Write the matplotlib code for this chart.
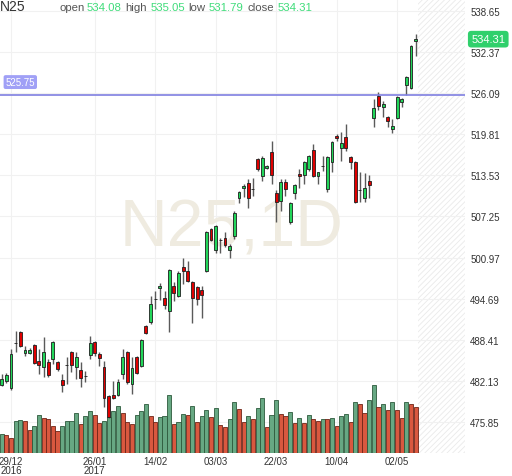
import numpy as np
import matplotlib
matplotlib.use("Agg")
import matplotlib.pyplot as plt

plt.rcParams['font.family'] = ['Liberation Sans', 'DejaVu Sans']
plt.rcParams['hatch.linewidth'] = 0.6

# daily OHLC (oldest first)
opens = [481.54, 482.15, 481.08, 487.90, 489.62, 486.42, 486.42, 487.64, 485.20, 484.28,
         485.05, 485.50, 485.05, 482.30, 484.55, 486.57, 484.28, 483.82, 482.90, 486.11,
         488.10, 486.27, 484.28, 479.86, 480.01, 480.01, 483.21, 486.57, 481.69, 485.81,
         484.44, 490.53, 491.15, 494.60, 496.34, 494.81, 492.83, 496.64, 495.12, 499.55,
         498.94, 497.25, 496.49, 496.03, 498.94, 505.35, 502.16, 503.60, 503.97, 502.16,
         504.28, 510.07, 511.60, 512.36, 511.40, 516.02, 513.43, 514.65, 517.09, 510.84,
         509.61, 512.51, 506.41, 510.84, 513.74, 513.58, 514.50, 517.40, 513.43, 514.90,
         511.45, 515.57, 519.53, 517.70, 519.38, 516.33, 515.57, 511.30, 510.07, 512.67,
         522.28, 525.64, 523.96, 522.43, 520.60, 522.28, 524.72, 527.32, 526.86, 534.08]
highs = [483.21, 483.37, 487.03, 489.78, 489.78, 487.49, 487.18, 487.79, 487.03, 488.86,
         485.50, 488.25, 485.20, 483.21, 485.81, 486.72, 486.57, 485.05, 483.67, 489.01,
         488.25, 486.57, 485.20, 480.01, 482.15, 482.45, 487.03, 486.72, 485.81, 485.96,
         488.56, 490.69, 495.12, 495.88, 497.10, 495.88, 499.24, 497.25, 498.94, 500.92,
         500.46, 497.41, 496.64, 496.64, 505.05, 505.50, 505.90, 503.97, 504.89, 503.06,
         508.09, 511.14, 512.21, 512.97, 513.12, 516.18, 516.48, 515.10, 518.77, 511.29,
         512.97, 512.97, 509.46, 512.21, 514.50, 515.72, 516.63, 518.31, 514.10, 516.48,
         516.48, 518.77, 519.84, 520.14, 521.37, 516.48, 515.72, 514.04, 513.89, 513.58,
         525.18, 526.25, 524.88, 522.59, 522.13, 525.64, 525.33, 528.69, 533.42, 535.05]
lows = [481.38, 481.84, 480.77, 486.57, 487.34, 485.96, 486.27, 484.74, 483.21, 482.76,
        482.76, 484.74, 483.67, 480.47, 481.69, 483.52, 482.45, 481.23, 482.00, 485.50,
        485.96, 484.44, 478.18, 476.50, 479.40, 479.86, 482.45, 481.69, 480.16, 483.21,
        484.28, 489.32, 490.84, 493.13, 494.51, 493.13, 489.62, 494.35, 494.97, 496.95,
        497.25, 490.99, 493.74, 491.75, 498.79, 503.52, 501.70, 501.70, 502.60, 500.92,
        503.82, 509.31, 510.23, 508.55, 510.38, 514.19, 512.67, 514.50, 512.21, 506.41,
        508.09, 510.38, 506.10, 509.92, 511.60, 512.21, 514.19, 513.28, 512.21, 514.19,
        510.99, 514.04, 518.77, 515.72, 517.24, 514.50, 509.31, 509.46, 509.46, 510.07,
        520.91, 523.50, 522.43, 520.91, 519.99, 522.13, 523.96, 525.79, 526.71, 531.79]
closes = [482.45, 483.06, 486.27, 488.00, 487.49, 486.88, 486.88, 484.89, 484.59, 486.57,
          483.06, 488.10, 483.98, 481.54, 484.65, 484.59, 485.81, 482.60, 482.95, 487.95,
          486.42, 485.66, 479.55, 476.65, 479.55, 482.00, 485.81, 482.00, 484.13, 483.37,
          488.40, 489.47, 493.90, 494.70, 496.64, 493.74, 499.09, 495.58, 498.63, 498.94,
          497.41, 494.81, 494.66, 495.27, 504.89, 503.67, 505.81, 503.70, 502.90, 502.77,
          507.79, 510.99, 511.90, 510.07, 511.50, 514.50, 516.18, 514.96, 513.58, 509.46,
          512.51, 511.45, 509.31, 512.06, 513.43, 515.57, 516.48, 513.43, 514.04, 515.00,
          516.33, 518.62, 519.23, 518.47, 517.70, 515.57, 509.46, 511.35, 511.60, 512.06,
          523.81, 524.11, 524.42, 521.82, 521.06, 525.49, 525.18, 528.54, 533.27, 534.31]
volumes = [190, 180, 147, 323, 333, 323, 230, 273, 383, 350,
           340, 273, 223, 273, 323, 325, 397, 290, 367, 417,
           383, 300, 323, 357, 423, 473, 397, 307, 290, 383,
           417, 490, 373, 313, 357, 367, 583, 290, 313, 390,
           380, 473, 307, 373, 433, 357, 447, 280, 263, 340,
           507, 440, 313, 373, 340, 447, 550, 257, 383, 533,
           390, 373, 407, 300, 350, 300, 383, 340, 317, 340,
           338, 350, 267, 373, 390, 307, 507, 490, 400, 533,
           683, 457, 490, 433, 507, 433, 350, 507, 490, 457]

date_pos = [2, 20, 33, 46, 59, 72, 85]
date_labels = ['29/12\n2016', '26/01\n2017', '14/02', '03/03', '22/03', '10/04', '02/05']
price_ticks = [475.85, 482.13, 488.41, 494.69, 500.97, 507.25, 513.53,
               519.81, 526.09, 532.37, 538.65]
level = 525.75
last = dict(open=534.08, high=535.05, low=531.79, close=534.31)

o = np.array(opens)
h = np.array(highs)
l = np.array(lows)
c = np.array(closes)
v = np.array(volumes)
x = np.arange(len(o))

fig = plt.figure(figsize=(5.12, 4.77), dpi=100)
rect = [0, 23 / 477, 465 / 512, 454 / 477]
axg = fig.add_axes(rect)
axv = fig.add_axes(rect, sharex=axg)
ax = fig.add_axes(rect, sharex=axg, sharey=axg)

axg.set_xlim(-0.37, 99.6)
axg.set_ylim(471.16, 540.44)
for s in axg.spines.values():
    s.set_visible(False)
axg.set_xticks(date_pos, date_labels)
axg.yaxis.tick_right()
axg.set_yticks(price_ticks, [f"{t:.2f}" for t in price_ticks])
axg.tick_params(axis='both', length=0, labelsize=7, colors='#333333')
axg.tick_params(axis='x', pad=2)
axg.tick_params(axis='y', pad=3.8)
for lab in axg.get_xticklabels():
    lab.set_linespacing(0.95)
axg.grid(True, color='#f1f1f1', lw=0.8)
axg.set_axisbelow(True)

# future area
axg.axvspan(89.5, 99.6, facecolor='white', hatch='//////', edgecolor='#eaeaea', lw=0, zorder=0.3)

axg.text(0.499, 0.456, 'N25,1D', transform=axg.transAxes, ha='center', va='baseline',
         fontsize=47.5, color='#efebe0', zorder=0.6)

# volume
up_vol = np.r_[True, v[1:] > v[:-1]]
axv.bar(x, v, width=0.88, color=np.where(up_vol, '#67a883', '#d9583f'),
        edgecolor=np.where(up_vol, '#2d5a3c', '#6e2417'), lw=0.6)
axv.set_ylim(0, 4540)
axv.axis('off')

# candles
up = c >= o
ax.vlines(x, l, h, color='#5a5a5a', lw=1)
ax.bar(x, np.maximum(np.abs(c - o), 0.06), bottom=np.minimum(o, c), width=0.62,
       color=np.where(up, '#22d65a', '#e00000'), edgecolor='#1e1e1e', lw=0.6, zorder=3)
ax.axhline(level, color='#7f7fe0', lw=1.2, zorder=4)
ax.annotate(f"{level:.2f}", xy=(0, level), xycoords=('axes fraction', 'data'),
            xytext=(4, 9.5), textcoords='offset points', ha='left', va='center',
            fontsize=7, color='white',
            bbox=dict(boxstyle='round,pad=0.2', fc='#a0a0f6', ec='none'))
ax.annotate(f"{last['close']:.2f}", xy=(1, last['close']), xycoords=('axes fraction', 'data'),
            xytext=(4.5, 0), textcoords='offset points', ha='left', va='center',
            fontsize=8, color='white', annotation_clip=False,
            bbox=dict(boxstyle='round,pad=0.3', fc='#30d06c', ec='none'))
ax.axis('off')

# header
fig.text(0.0, 1 - 7 / 477, 'N25', fontsize=10, color='#333333', va='center', ha='left')
hx = [(59, 'open', None), (87, f"{last['open']:.2f}", 1), (125, 'high', None),
      (151, f"{last['high']:.2f}", 1), (188, 'low', None), (209, f"{last['low']:.2f}", 1),
      (247, 'close', None), (278, f"{last['close']:.2f}", 1)]
for px, txt, isval in hx:
    fig.text(px / 512, 1 - 8 / 477, txt, fontsize=8.2, va='center', ha='left',
             color='#3fdc7a' if isval else '#555555')

fig.savefig('out.png', dpi=100)
